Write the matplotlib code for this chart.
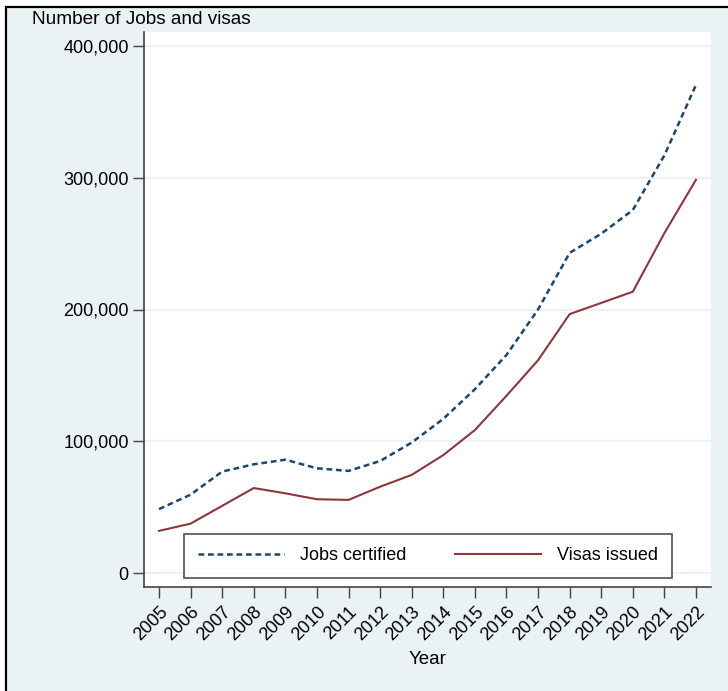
import numpy as np
import matplotlib
matplotlib.use("Agg")
import matplotlib.pyplot as plt
from matplotlib.patches import Rectangle
from matplotlib.ticker import FuncFormatter

years = list(range(2005, 2023))
jobs_certified = [48500, 59500, 77000, 82500, 86000, 79500, 77500, 85000, 99000,
                  117000, 139500, 165500, 200000, 243000, 257500, 275500, 317000, 370500]
visas_issued = [32000, 37500, 51000, 64500, 60500, 56000, 55500, 65500, 74500,
                89500, 108500, 134500, 161500, 196500, 205000, 213500, 258000, 298500]
y_ticks = [0, 100000, 200000, 300000, 400000]

plt.rcParams['font.family'] = ['Liberation Sans', 'DejaVu Sans']

W, H = 728, 691
fig = plt.figure(figsize=(W / 100, H / 100), dpi=100)
fig.patch.set_facecolor('white')

# stata-like outer frame (only top/left edges visible in the crop)
fig.patches.append(Rectangle((6 / W, -0.1), 1.2, 1 - 7 / H + 0.1,
                             transform=fig.transFigure, facecolor='#eaf2f3',
                             edgecolor='black', lw=1.6, zorder=-5))

ax = fig.add_axes([144 / W, (H - 587) / H, (711 - 144) / W, (587 - 32) / H])
ax.set_facecolor('white')

ax.plot(years, jobs_certified, color='#1a476f', lw=1.8, ls=(0, (2.3, 1.5)),
        label='Jobs certified')
ax.plot(years, visas_issued, color='#90353b', lw=1.5, label='Visas issued')

ax.set_xlim(2004.525, 2022.475)
ax.set_ylim(-10600, 410600)
ax.set_yticks(y_ticks)
ax.yaxis.set_major_formatter(FuncFormatter(lambda v, p: f"{int(v):,}"))
ax.set_xticks(years)
ax.set_xticklabels([str(y) for y in years], rotation=45, ha='right',
                   rotation_mode='anchor', fontsize=13)
ax.tick_params(axis='y', labelsize=13, length=8, width=1, color='#444444', pad=3)
ax.tick_params(axis='x', length=8, width=1, color='#444444', pad=4)
ax.grid(axis='y', color='#eaf2f3', lw=1.6)
ax.set_axisbelow(True)

for s in ['top', 'right']:
    ax.spines[s].set_visible(False)
for s in ['left', 'bottom']:
    ax.spines[s].set_color('#444444')
    ax.spines[s].set_linewidth(1.2)

fig.text(32 / W, 1 - 20 / H, 'Number of Jobs and visas', fontsize=13.7,
         ha='left', va='center')
ax.set_xlabel('Year', fontsize=13.5, labelpad=5)

leg = ax.legend(loc='lower center', bbox_to_anchor=((184 - 144) / (711 - 144), (587 - 578) / (587 - 32),
                                                    (672 - 184) / (711 - 144), 0.08),
                mode='expand', ncol=2, fontsize=13, frameon=True, fancybox=False,
                borderaxespad=0, handlelength=4.8, handletextpad=0.9,
                columnspacing=2.5, borderpad=0.75)
leg.get_frame().set_edgecolor('#222222')
leg.get_frame().set_linewidth(1.2)

fig.savefig('out.png', dpi=100)
